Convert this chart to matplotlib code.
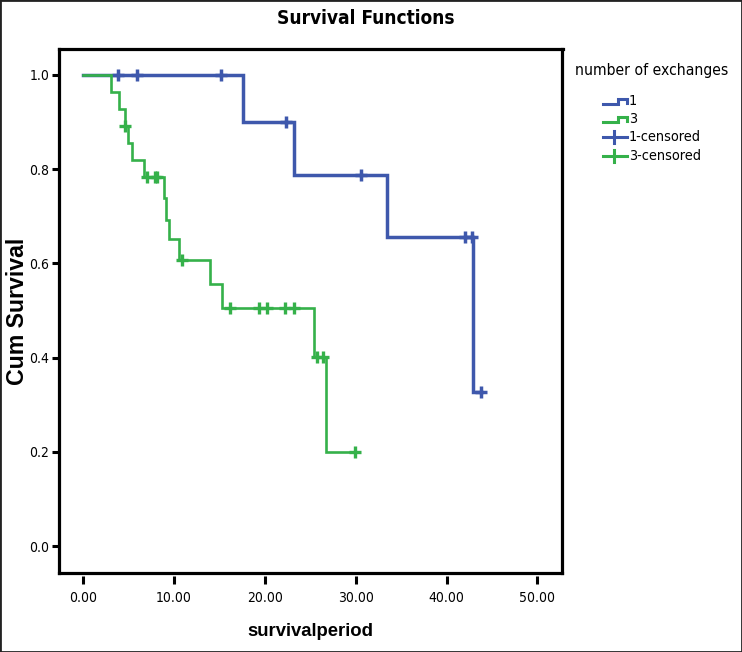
import numpy as np
import matplotlib
matplotlib.use("Agg")
import matplotlib.pyplot as plt
from matplotlib import font_manager
from matplotlib.font_manager import FontProperties
from matplotlib.lines import Line2D
from matplotlib.patches import Rectangle

# ---------------- data ----------------
g1_event_times = [0.0, 17.55, 23.17, 33.4, 42.9]
g1_surv = [1.0, 0.900, 0.7875, 0.656, 0.328]
g1_end = 43.8
g1_cens_times = [3.85, 5.95, 15.17, 22.3, 30.58, 42.0, 42.85, 43.8]

g3_event_times = [0.0, 3.01, 3.97, 4.59, 4.96, 5.33, 6.72, 8.92, 9.10, 9.44,
                  10.57, 13.95, 15.24, 25.4, 26.73]
g3_surv = [1.0, 0.964, 0.928, 0.892, 0.855, 0.819, 0.783, 0.738, 0.693, 0.651,
           0.607, 0.556, 0.505, 0.402, 0.200]
g3_end = 29.9
g3_cens_times = [4.62, 7.05, 7.85, 8.1, 10.83, 16.16, 19.38, 20.26, 22.25,
                 23.24, 25.77, 26.43, 29.9]

x_ticks = [0, 10, 20, 30, 40, 50]
x_tick_labels = ["0.00", "10.00", "20.00", "30.00", "40.00", "50.00"]
y_ticks = [0.0, 0.2, 0.4, 0.6, 0.8, 1.0]
y_tick_labels = ["0.0", "0.2", "0.4", "0.6", "0.8", "1.0"]

title = "Survival Functions"
x_label = "survivalperiod"
y_label = "Cum Survival"
legend_title = "number of exchanges"
legend_labels = ["1", "3", "1-censored", "3-censored"]

BLUE = "#3E58AC"
GREEN = "#35B14A"

# ---------------- fonts ----------------
REG = "Liberation Sans"
narrow_reg = None
narrow_bold = None
prefs = ["Liberation Sans Narrow", "Arial Narrow", "DejaVu Sans",
         "Roboto Condensed", "Open Sans Condensed", "Noto Sans"]
cands = [f for f in font_manager.fontManager.ttflist
         if ("Narrow" in f.name or "Condensed" in f.name
             or str(f.stretch) in ("condensed", "semi-condensed", "500", "600"))
         and "Mono" not in f.name and "Serif" not in f.name
         and f.style == "normal"]
for p in prefs:
    for f in cands:
        if f.name == p:
            w = f.weight if isinstance(f.weight, int) else (700 if "bold" in str(f.weight) else 400)
            if w >= 600 and narrow_bold is None:
                narrow_bold = f.fname
            if w < 600 and narrow_reg is None:
                narrow_reg = f.fname
    if narrow_reg is not None:
        break

if narrow_reg is not None:
    FP_N = FontProperties(fname=narrow_reg)
    FP_NB = FontProperties(fname=narrow_bold) if narrow_bold else FontProperties(family=REG, weight="bold")
else:
    FP_N = FontProperties(family=REG)
    FP_NB = FontProperties(family=REG, weight="bold")
FP_B = FontProperties(family=REG, weight="bold")

W, H = 742, 652
fig = plt.figure(figsize=(W / 100, H / 100), dpi=100)
renderer = fig.canvas.get_renderer()


def fit(base, text, target_px, max_size=40):
    p = base.copy()
    p.set_size(10)
    w, h, d = renderer.get_text_width_height_descent(text, p, ismath=False)
    p.set_size(min(max_size, 10 * target_px / w))
    return p


def fx(x):
    return x / W


def fy(y):
    return 1 - y / H


# axes frame in pixels
L, R, T, B = 58.5, 562.5, 49, 573
ax = fig.add_axes([fx(L), fy(B), (R - L) / W, (B - T) / H])

# x: 0 -> 83.3px, 9.08 px/unit ; y: 0 -> 546px, 471 px/unit
ax.set_xlim((L - 83.3) / 9.08, (R - 83.3) / 9.08)
ax.set_ylim((546 - B) / 471, (546 - T) / 471)


def surv_at(times, surv, t):
    idx = np.searchsorted(times, t, side="right") - 1
    return np.asarray(surv)[idx]


# group 1
x1 = list(g1_event_times) + [g1_end]
y1 = list(g1_surv) + [g1_surv[-1]]
ax.step(x1, y1, where="post", color=BLUE, lw=2.5, zorder=3,
        solid_joinstyle="miter")
ax.plot(g1_cens_times, surv_at(g1_event_times, g1_surv, g1_cens_times),
        ls="none", marker="+", ms=8.5, mew=2.5, color=BLUE, zorder=4)

# group 3
x3 = list(g3_event_times) + [g3_end]
y3 = list(g3_surv) + [g3_surv[-1]]
ax.step(x3, y3, where="post", color=GREEN, lw=1.9, zorder=5,
        solid_joinstyle="miter")
ax.plot(g3_cens_times, surv_at(g3_event_times, g3_surv, g3_cens_times),
        ls="none", marker="+", ms=8, mew=2.4, color=GREEN, zorder=6)

# frame
for s in ["top", "left", "right"]:
    ax.spines[s].set_linewidth(2.3)
ax.spines["bottom"].set_visible(False)
ax.spines["bottom"].set_position(("outward", 2.2))
ax.plot([0, 1], [0, 0], transform=ax.transAxes, color="black", lw=2.3,
        clip_on=False, solid_capstyle="projecting", zorder=10)

tick_fp = fit(FP_N, "10.00", 36)
ax.set_xticks(x_ticks)
ax.set_xticklabels(x_tick_labels, fontproperties=tick_fp)
ax.set_yticks(y_ticks)
ax.set_yticklabels(y_tick_labels, fontproperties=tick_fp)
ax.tick_params(axis="x", direction="out", length=6, width=2.2, pad=5,
               colors="black")
ax.tick_params(axis="y", direction="out", length=5, width=2.2, pad=1.5,
               colors="black")

# axis labels
fig.text(fx(310), fy(632), x_label, fontproperties=fit(FP_B, x_label, 127),
         ha="center", va="center")
fig.text(fx(17.5), fy(311), y_label, fontproperties=fit(FP_B, y_label, 148),
         ha="center", va="center", rotation=90)

# title (centred on the whole chart)
fig.text(fx(366), fy(18), title, fontproperties=fit(FP_NB, title, 176),
         ha="center", va="center")

# legend (manual)
fig.text(fx(575), fy(71), legend_title,
         fontproperties=fit(FP_N, legend_title, 153),
         ha="left", va="center")
entry_fp = fit(FP_N, "1-censored", 72)
rows = [101, 119, 137, 156]
colors = [BLUE, GREEN, BLUE, GREEN]
for i, (ry, lab, c) in enumerate(zip(rows, legend_labels, colors)):
    if i < 2:
        xs = [603, 618, 618, 627, 627]
        ys = [ry + 2.5, ry + 2.5, ry - 2.5, ry - 2.5, ry + 2]
        fig.add_artist(Line2D([fx(v) for v in xs], [fy(v) for v in ys],
                              color=c, lw=2.2, solid_joinstyle="miter"))
    else:
        fig.add_artist(Line2D([fx(603), fx(627)], [fy(ry), fy(ry)],
                              color=c, lw=2.2))
        fig.add_artist(Line2D([fx(614), fx(614)], [fy(ry - 6), fy(ry + 6)],
                              color=c, lw=2.2))
    fig.text(fx(629), fy(ry), lab, fontproperties=entry_fp,
             ha="left", va="center")

# outer border
fig.add_artist(Rectangle((0, 0), 1, 1, transform=fig.transFigure,
                         fill=False, edgecolor="#222222", lw=2))

fig.savefig("out.png", dpi=100)
